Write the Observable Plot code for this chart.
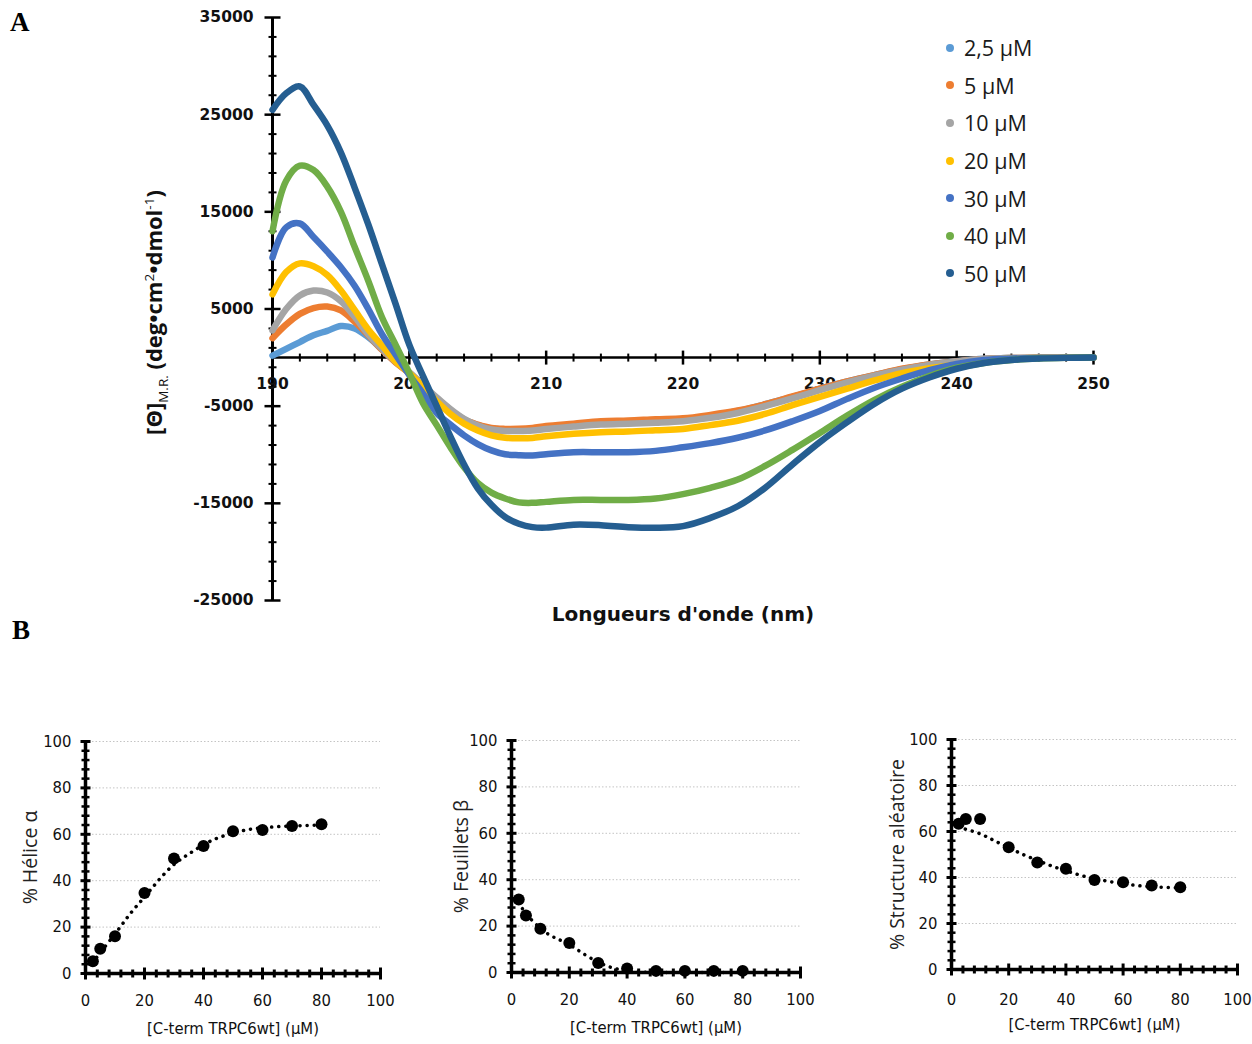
<!DOCTYPE html>
<html><head><meta charset="utf-8">
<script src="https://cdn.jsdelivr.net/npm/d3@7"></script>
<script src="https://cdn.jsdelivr.net/npm/@observablehq/plot@0.6"></script>
<style>
body{margin:0;background:#fff;}
#root{position:relative;width:1252px;height:1044px;overflow:hidden;background:#fff;}
#root svg{position:absolute;}
.panel-label{position:absolute;font-family:"Liberation Serif","DejaVu Serif",serif;font-weight:bold;font-size:27px;color:#000;}
.legend{position:absolute;left:946px;top:29px;font-family:"Open Sans",sans-serif;font-size:21.5px;color:#1a1a1a;}
.legend .row{height:37.6px;display:flex;align-items:center;}
.legend .sw{width:8px;height:8px;border-radius:50%;margin-right:10px;}
</style></head><body><div id="root"></div>
<script>
// ---------- Panel A data ----------
const wavelengths = [190,191,192,193,194,195,196,197,198,199,200,201,202,203,204,205,206,207,208,209,210,
  212,214,216,218,220,222,224,226,228,230,232,234,236,238,240,242,244,246,248,250];
const seriesLabels = ["2,5 µM","5 µM","10 µM","20 µM","30 µM","40 µM","50 µM"];
const seriesColors = ["#5B9BD5","#ED7D31","#A5A5A5","#FFC000","#4472C4","#70AD47","#255E91"];
const theta2_5 = [200,900,1600,2300,2750,3250,3000,2100,850,-450,-1550,-2850,-4200,-5400,-6350,-6950,-7300,-7400,-7400,-7350,-7150,
  -6900,-6700,-6600,-6500,-6400,-6000,-5500,-4800,-4050,-3200,-2450,-1800,-1200,-700,-370,-130,-45,-15,-5,0];
const theta5 = [2000,3400,4500,5100,5250,4850,3700,2300,800,-500,-1600,-2900,-4300,-5500,-6400,-6900,-7250,-7340,-7330,-7240,-7050,
  -6800,-6550,-6480,-6350,-6250,-5900,-5450,-4800,-4000,-3200,-2450,-1800,-1150,-700,-400,-150,-50,-15,-5,0];
const theta10 = [2800,5000,6400,6900,6700,5800,4200,2400,900,-400,-1500,-2800,-4100,-5300,-6300,-7000,-7400,-7550,-7550,-7500,-7350,
  -7100,-6890,-6800,-6700,-6550,-6200,-5700,-5000,-4200,-3350,-2550,-1850,-1250,-750,-400,-150,-50,-15,-5,0];
const theta20 = [6500,8800,9700,9400,8500,6900,4900,2900,1250,-400,-1600,-3000,-4500,-5800,-6800,-7500,-8000,-8250,-8300,-8270,-8100,
  -7850,-7680,-7610,-7480,-7340,-6950,-6500,-5800,-4900,-4050,-3200,-2350,-1600,-1100,-700,-300,-100,-30,-10,0];
const theta30 = [10300,13400,13800,12400,10900,9300,7400,5000,2400,300,-1800,-3700,-5700,-6900,-8000,-8900,-9550,-9950,-10050,-10080,-9950,
  -9740,-9740,-9740,-9600,-9230,-8800,-8250,-7500,-6550,-5500,-4250,-3100,-2150,-1300,-650,-250,-100,-30,-10,0];
const theta40 = [13000,18200,19750,19300,17600,15000,11400,7900,4150,1300,-1600,-4700,-6950,-9230,-11300,-12900,-13900,-14500,-14900,-14950,-14850,
  -14650,-14650,-14650,-14500,-14050,-13400,-12550,-11150,-9500,-7750,-5970,-4350,-3000,-1900,-1050,-550,-250,-100,-30,0];
const theta50 = [25500,27200,27900,26000,23900,21100,17500,13700,9600,5500,1300,-1900,-5000,-8100,-11000,-13450,-15150,-16400,-17100,-17450,-17500,
  -17200,-17250,-17450,-17520,-17350,-16500,-15300,-13400,-11000,-8700,-6650,-4750,-3200,-2050,-1150,-550,-250,-100,-30,0];
const thetaSeries = [theta2_5, theta5, theta10, theta20, theta30, theta40, theta50];
const xTickLabels = [190,200,210,220,230,240,250];
const xMinorTicks = d3.range(192, 250, 2).filter(d => d % 10 !== 0);
const yTickLabels = [35000,25000,15000,5000,-5000,-15000,-25000];
const yMinorTicks = d3.range(-25000, 35001, 2000).filter(d => !yTickLabels.includes(d));

// ---------- Panel B data ----------
const conc = [2.5,5,10,20,30,40,50,60,70,80];
const helixPct = [5.3,10.7,16.1,34.7,49.6,55,61.3,61.9,63.6,64.3];
const betaPct = [31.5,24.6,18.9,12.7,4.1,1.7,0.7,0.7,0.7,0.7];
const randomPct = [63.4,65.4,65.4,53.2,46.5,43.8,38.9,37.9,36.5,35.8];
const fitConc = [2.5,5,10,15,20,25,30,35,40,45,50,55,60,65,70,75,80];
const helixFit = [4.5,9,17,25.5,33,40.5,47,51.5,55.5,58.5,60.5,62,62.8,63.3,63.6,63.8,63.9];
const betaFit = [30,25.5,19,15,12,8,4.5,2,0.8,0.2,0,0,0,0,0,0,0];
const randomFit = [62,61,59,56,53,50,47.5,45,43,41,39.5,38.3,37.3,36.5,36,35.7,35.5];
const bTickLabels = [0,20,40,60,80,100];
const bMinorTicks = d3.range(0, 101, 4).filter(d => d % 20 !== 0);

// ---------- helpers ----------
const root = document.getElementById("root");
const vTick = {draw(ctx, size){const r = Math.sqrt(size/Math.PI); ctx.moveTo(0,-r); ctx.lineTo(0,r);}};
const hTick = {draw(ctx, size){const r = Math.sqrt(size/Math.PI); ctx.moveTo(-r,0); ctx.lineTo(r,0);}};

// ---------- Panel A ----------
const records = [];
thetaSeries.forEach((arr, si) => arr.forEach((v, i) => records.push({nm: wavelengths[i], theta: v, series: seriesLabels[si]})));

const A = {width: 1252, height: 640, ml: 272, mr: 159, mt: 17, mb: 40};
const tickFont = {fontFamily: "DejaVu Sans, sans-serif", fontWeight: "bold", fontSize: 15.5, fill: "#111"};
const plotA = Plot.plot({
  width: A.width, height: A.height,
  marginLeft: A.ml, marginRight: A.mr, marginTop: A.mt, marginBottom: A.mb,
  x: {domain: [190, 250], axis: null},
  y: {domain: [-25000, 35000], axis: null},
  color: {domain: seriesLabels, range: seriesColors},
  marks: [
    Plot.ruleX([190], {y1: -25000, y2: 35000, stroke: "#000", strokeWidth: 3}),
    Plot.ruleY([0], {x1: 190, x2: 250, stroke: "#000", strokeWidth: 2.5}),
    Plot.dot(yMinorTicks, {x: 190, y: d => d, symbol: hTick, r: 4, fill: "none", stroke: "#000", strokeWidth: 2}),
    Plot.dot(yTickLabels, {x: 190, y: d => d, symbol: hTick, r: 8, fill: "none", stroke: "#000", strokeWidth: 2.5}),
    Plot.dot(xMinorTicks, {x: d => d, y: 0, symbol: vTick, r: 4, fill: "none", stroke: "#000", strokeWidth: 2}),
    Plot.dot(xTickLabels.filter(d => d !== 190), {x: d => d, y: 0, symbol: vTick, r: 7, fill: "none", stroke: "#000", strokeWidth: 2.5}),
    Plot.text(yTickLabels, {x: 190, y: d => d, text: d => String(d), dx: -19, textAnchor: "end", ...tickFont}),
    Plot.text(xTickLabels, {x: d => d, y: 0, text: d => String(d), dy: 26, textAnchor: "middle", ...tickFont}),
    Plot.line(records, {x: "nm", y: "theta", z: "series", stroke: "series", strokeWidth: 6.5, curve: "catmull-rom", strokeLinecap: "round", strokeLinejoin: "round"}),
    Plot.text(["Longueurs d'onde (nm)"], {frameAnchor: "bottom", dy: 20, textAnchor: "middle", fontFamily: "DejaVu Sans, sans-serif", fontWeight: "bold", fontSize: 20, fill: "#111"})
  ]
});
plotA.style.left = "0px"; plotA.style.top = "0px";
root.appendChild(plotA);

// y-axis title with sub/superscripts
{
  const cx = A.ml - 110, cy = (A.mt + A.height - A.mb) / 2 + 4;
  const t = d3.select(plotA).append("text")
    .attr("transform", `translate(${cx},${cy}) rotate(-90)`)
    .attr("text-anchor", "middle")
    .attr("font-family", "Open Sans, sans-serif")
    .attr("font-size", 22).attr("font-weight", "bold").attr("fill", "#111");
  t.append("tspan").text("[Θ]");
  t.append("tspan").attr("dy", 6).attr("font-size", 13.5).attr("font-weight", "normal").text("M.R.");
  t.append("tspan").attr("dy", -6).text(" (deg•cm");
  t.append("tspan").attr("dy", -8).attr("font-size", 13.5).attr("font-weight", "normal").text("2");
  t.append("tspan").attr("dy", 8).text("•dmol");
  t.append("tspan").attr("dy", -8).attr("font-size", 13.5).attr("font-weight", "normal").text("-1");
  t.append("tspan").attr("dy", 8).text(")");
}

// legend
{
  const lg = document.createElement("div");
  lg.className = "legend";
  seriesLabels.forEach((lab, i) => {
    const row = document.createElement("div"); row.className = "row";
    const sw = document.createElement("span"); sw.className = "sw"; sw.style.background = seriesColors[i];
    const tx = document.createElement("span"); tx.textContent = lab;
    row.appendChild(sw); row.appendChild(tx); lg.appendChild(row);
  });
  root.appendChild(lg);
}

// panel labels
for (const [txt, l, t] of [["A", 10, 7], ["B", 12, 615]]) {
  const d = document.createElement("div"); d.className = "panel-label";
  d.style.left = l + "px"; d.style.top = t + "px"; d.textContent = txt; root.appendChild(d);
}

// ---------- Panel B ----------
function panel({left, width, ml, mr, mt, mb, yTitle, values, fit, yTitleDx, xLabDy}) {
  const pts = conc.map((c, i) => ({c, v: values[i]}));
  const fitPts = fitConc.map((c, i) => ({c, v: fit[i]}));
  const font = {fontFamily: "Liberation Sans Narrow, DejaVu Sans Condensed, Roboto Condensed, Roboto, sans-serif", fontSize: 16.5, fill: "#111"};
  const p = Plot.plot({
    width, height: 324, marginLeft: ml, marginRight: mr, marginTop: mt, marginBottom: mb,
    x: {domain: [0, 100], axis: null},
    y: {domain: [0, 100], axis: null},
    marks: [
      Plot.ruleY(bTickLabels.filter(d => d > 0), {x1: 0, x2: 100, stroke: "#c4c4c4", strokeWidth: 1, strokeDasharray: "1.5 2"}),
      Plot.ruleX([0], {y1: 0, y2: 100, stroke: "#000", strokeWidth: 3.5}),
      Plot.ruleY([0], {x1: 0, x2: 100, stroke: "#000", strokeWidth: 3.5}),
      Plot.dot(bMinorTicks, {x: d => d, y: 0, symbol: vTick, r: 4, fill: "none", stroke: "#000", strokeWidth: 3}),
      Plot.dot(bTickLabels, {x: d => d, y: 0, symbol: vTick, r: 6, fill: "none", stroke: "#000", strokeWidth: 3}),
      Plot.dot(bMinorTicks, {x: 0, y: d => d, symbol: hTick, r: 4, fill: "none", stroke: "#000", strokeWidth: 2.5}),
      Plot.dot(bTickLabels, {x: 0, y: d => d, symbol: hTick, r: 5, fill: "none", stroke: "#000", strokeWidth: 3}),
      Plot.text(bTickLabels, {x: 0, y: d => d, text: d => String(d), dx: -14, textAnchor: "end", ...font}),
      Plot.text(bTickLabels, {x: d => d, y: 0, text: d => String(d), dy: xLabDy, textAnchor: "middle", ...font}),
      Plot.line(fitPts, {x: "c", y: "v", curve: "natural", stroke: "#000", strokeWidth: 3.5, strokeDasharray: "0.1 7", strokeLinecap: "round"}),
      Plot.dot(pts, {x: "c", y: "v", r: 6, fill: "#000"}),
      Plot.text(["[C-term TRPC6wt] (µM)"], {frameAnchor: "bottom", dy: 60, textAnchor: "middle", ...font, fontSize: 16.5}),
      Plot.text([yTitle], {frameAnchor: "left", dx: yTitleDx, rotate: -90, textAnchor: "middle", fontFamily: "Open Sans, sans-serif", fontSize: 19.5, fontWeight: 500, fill: "#222"})
    ]
  });
  p.style.left = left + "px"; p.style.top = "720px";
  root.appendChild(p);
}
panel({left: 0, width: 400, ml: 85, mr: 20, mt: 21, mb: 71, yTitle: "% Hélice α", values: helixPct, fit: helixFit, yTitleDx: -55, xLabDy: 27});
panel({left: 420, width: 420, ml: 91, mr: 40, mt: 20, mb: 72, yTitle: "% Feuillets β", values: betaPct, fit: betaFit, yTitleDx: -50, xLabDy: 27});
panel({left: 860, width: 392, ml: 91, mr: 15, mt: 19, mb: 75, yTitle: "% Structure aléatoire", values: randomPct, fit: randomFit, yTitleDx: -54, xLabDy: 30});
</script>
</body></html>
